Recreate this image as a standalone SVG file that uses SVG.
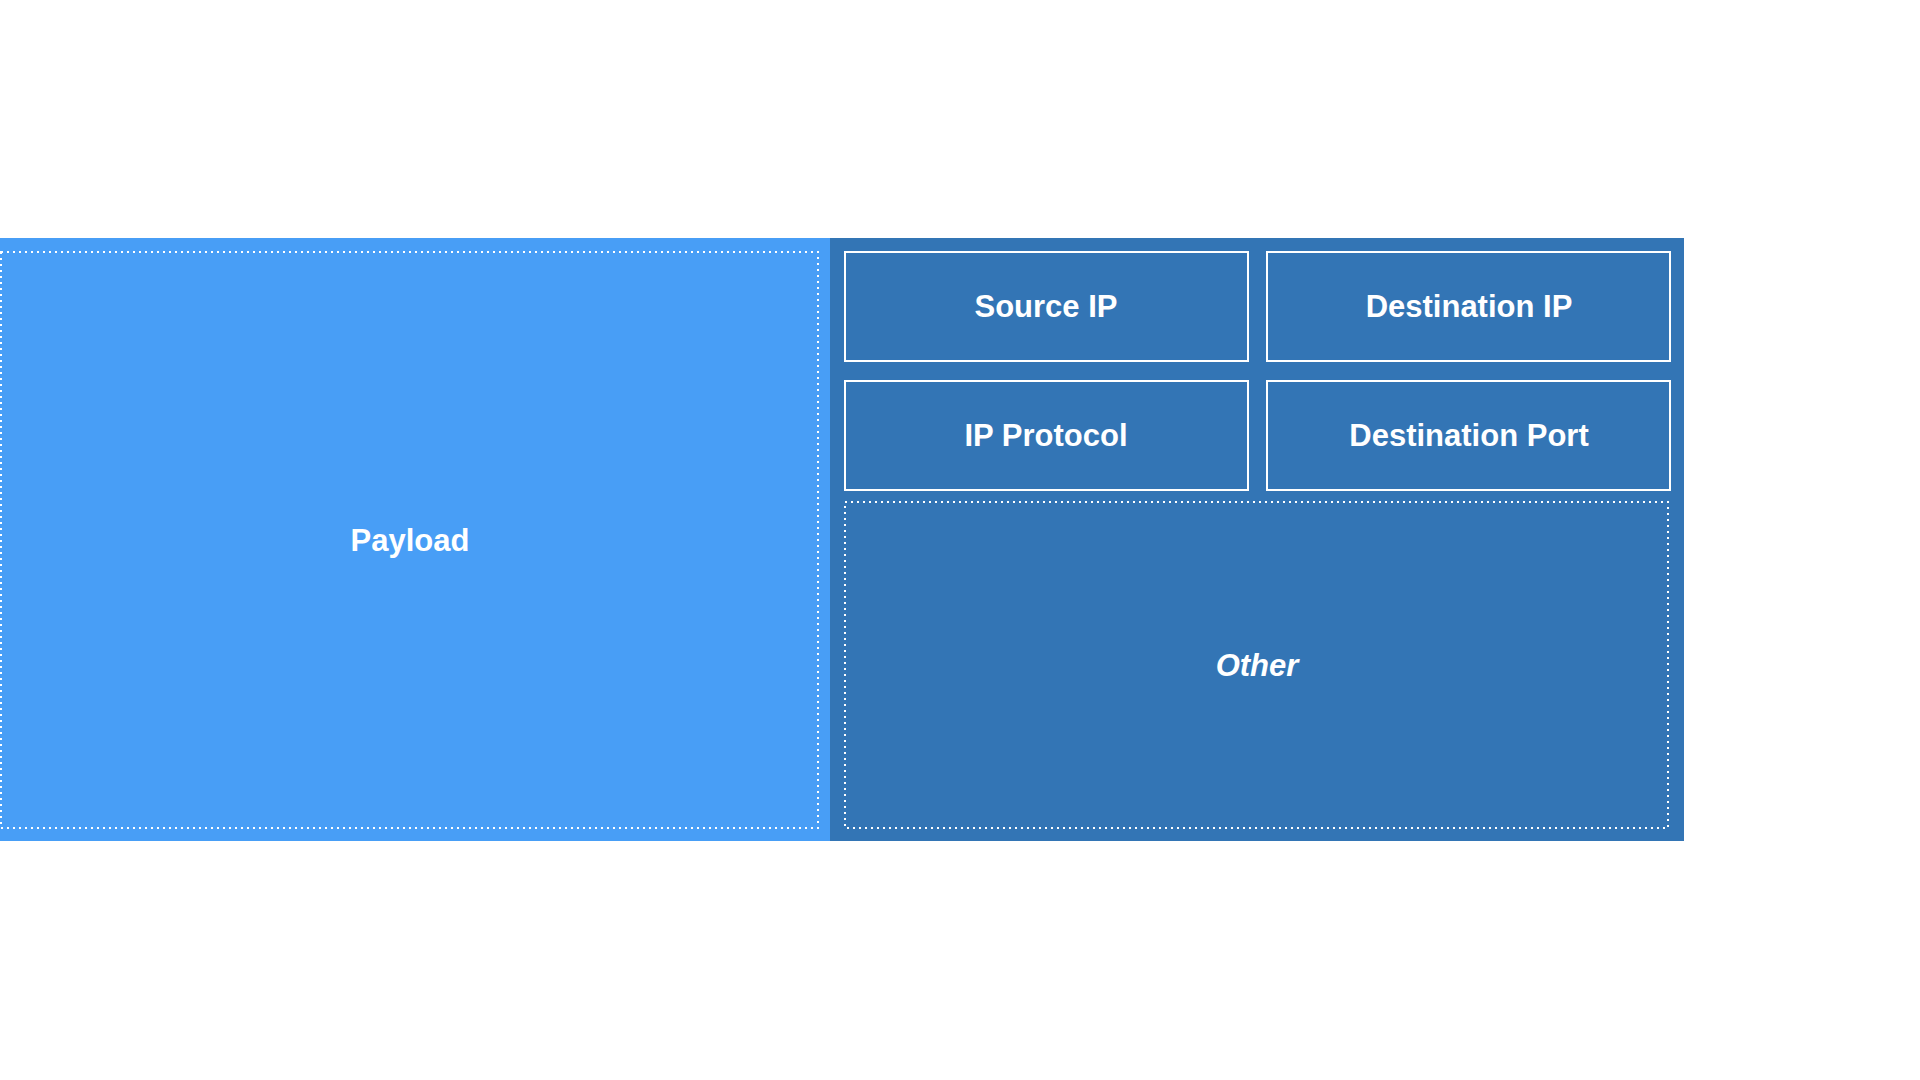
<svg xmlns="http://www.w3.org/2000/svg" width="1920" height="1080" viewBox="0 0 1920 1080">
<style>
.lbl{font-family:"Liberation Sans",Arial,sans-serif;font-weight:bold;font-size:31px;fill:#ffffff;text-anchor:middle}
.it{font-style:italic}
.solid{fill:none;stroke:#ffffff;stroke-width:2}
.dot{fill:none;stroke:#ffffff;stroke-width:2;stroke-dasharray:2 4}
</style>
<rect width="1920" height="1080" fill="#ffffff"/>
<g id="payload-area">
<rect x="0" y="238" width="830" height="603" fill="#489EF6"/>
<rect class="dot" x="1" y="252" width="817" height="576"/>
<text class="lbl" x="410" y="551">Payload</text>
</g>
<g id="header-area">
<rect x="830" y="238" width="854" height="603" fill="#3375B5"/>
</g>
<g id="source-ip">
<rect class="solid" x="845" y="252" width="403" height="109"/>
<text class="lbl" x="1046" y="317">Source IP</text>
</g>
<g id="destination-ip">
<rect class="solid" x="1267" y="252" width="403" height="109"/>
<text class="lbl" x="1469" y="317">Destination IP</text>
</g>
<g id="ip-protocol">
<rect class="solid" x="845" y="381" width="403" height="109"/>
<text class="lbl" x="1046" y="446">IP Protocol</text>
</g>
<g id="destination-port">
<rect class="solid" x="1267" y="381" width="403" height="109"/>
<text class="lbl" x="1469" y="446">Destination Port</text>
</g>
<g id="other">
<rect class="dot" x="845" y="502" width="823" height="326"/>
<text class="lbl it" x="1257" y="676">Other</text>
</g>
<g id="connectors"></g>
</svg>
